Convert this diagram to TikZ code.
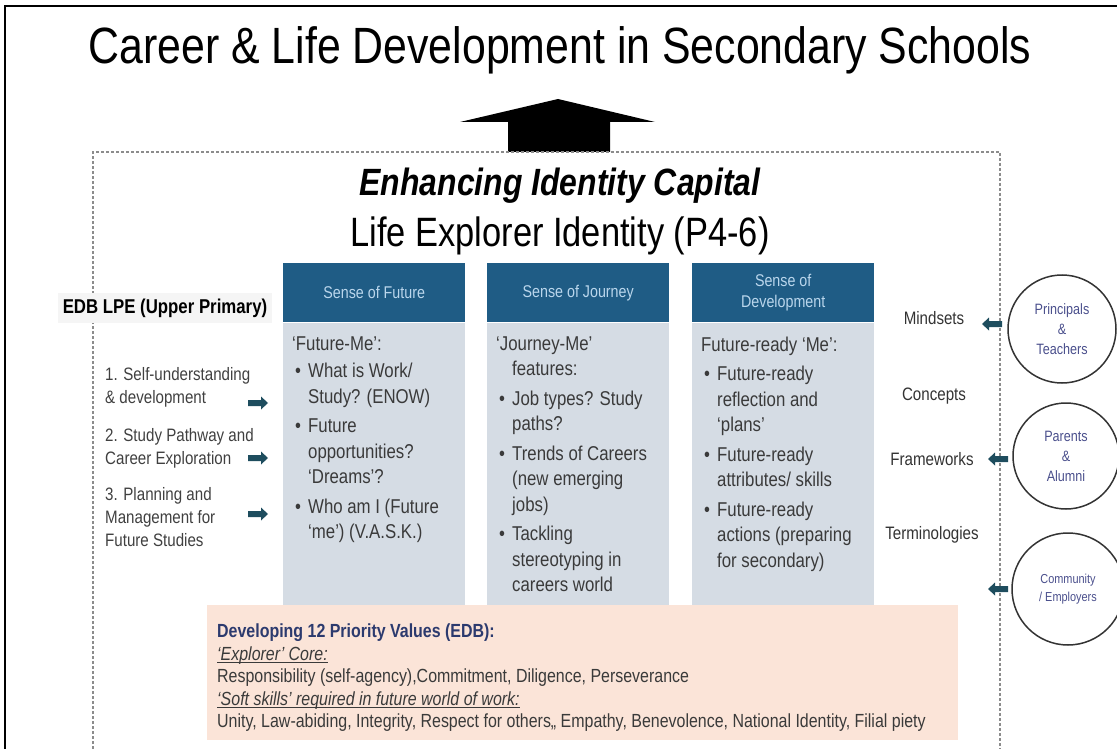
\documentclass[tikz,border=0pt]{standalone}
\usepackage{fontspec}
\setmainfont{Liberation Sans}[FakeStretch=0.84]
\usetikzlibrary{positioning}

\definecolor{hdrblue}{HTML}{1F5C85}
\definecolor{hdrtext}{HTML}{BAD6EC}
\definecolor{bodyfill}{HTML}{D5DCE4}
\definecolor{bodytext}{HTML}{3A3A3A}
\definecolor{peach}{HTML}{FBE4D8}
\definecolor{navytext}{HTML}{2C3A6E}
\definecolor{arrowteal}{HTML}{1E4D5E}
\definecolor{circtext}{HTML}{4A4F8C}
\definecolor{framegray}{HTML}{8C8C8C}

% bullet lines inside the columns
\newcommand{\bul}{\hspace*{3pt}\makebox[13pt][l]{\textbullet}}
\newcommand{\ind}{\hspace*{16pt}}
% underlined italic heading in the values band
\newcommand{\ulit}[1]{\textit{\underline{\smash{#1}}}}

\tikzset{
  colhead/.style={fill=hdrblue, text=hdrtext, minimum width=182, minimum height=59,
    inner sep=0pt, align=center, anchor=north west, font=\fontsize{17}{21}\selectfont},
  colbox/.style={fill=bodyfill, minimum width=182, minimum height=285, inner sep=0pt},
  coltext/.style={anchor=north west, inner sep=0pt, align=left, text=bodytext,
    font=\fontsize{20}{25.5}\selectfont},
  lpe/.style={anchor=north west, inner sep=0pt, align=left, text=black!75,
    font=\fontsize{18}{23}\selectfont},
  lbl/.style={text=black!80, font=\fontsize{18}{22}\selectfont},
  party/.style={circle, draw=black!80, line width=1.5pt, minimum size=108,
    inner sep=0pt, align=center, text=circtext, font=\fontsize{15}{20}\selectfont},
  % small block arrow, pointing right
  pics/blockarrow/.style={code={
    \fill[arrowteal] (-10,-3) -- (3,-3) -- (3,-6.5) -- (10,0) -- (3,6.5) -- (3,3) -- (-10,3) -- cycle;
  }},
}

\begin{document}
\begin{tikzpicture}[x=1pt,y=-1pt]
  \useasboundingbox (0,0) rectangle (1117,749);

  % page frame
  \draw[line width=2.5pt] (5,749) -- (5,6) -- (1117,6);

  \node (title) at (560,50) {\fontsize{51}{57}\selectfont Career \& Life Development in Secondary Schools};

  % block arrow up to the title
  \fill (508,152) -- (508,122) -- (460,122) -- (558,99) -- (655,122) -- (610,122) -- (610,152) -- cycle;

  % dashed frame
  \draw[framegray, line width=1.4pt, dash pattern=on 3pt off 2pt]
    (93,749) -- (93,152) -- (1000,152) -- (1000,749);

  \node (capital) at (560,186) {\fontsize{38}{42}\selectfont\bfseries\itshape Enhancing Identity Capital};
  \node (explorer) at (560,236) {\fontsize{41}{45}\selectfont Life Explorer Identity (P4-6)};

  % the three senses
  \node[colhead] (fhead) at (283,263) {Sense of Future};
  \node[colhead] (jhead) at (487,263) {Sense of Journey};
  \node[colhead] (dhead) at (692,263) {Sense of\\Development};
  \node[colbox, below=0pt of fhead] (fbody) {};
  \node[colbox, below=0pt of jhead] (jbody) {};
  \node[colbox, below=0pt of dhead] (dbody) {};

  \node[coltext] (ftext) at ([shift={(9,14)}]fbody.north west)
    {‘Future-Me’:\\[2pt]
     \bul What is Work/\\ \ind Study? (ENOW)\\[4pt]
     \bul Future\\ \ind opportunities?\\ \ind ‘Dreams’?\\[4pt]
     \bul Who am I (Future\\ \ind ‘me’) (V.A.S.K.)};
  \node[coltext] (jtext) at ([shift={(9,14)}]jbody.north west)
    {‘Journey-Me’\\ \ind features:\\[4pt]
     \bul Job types? Study\\ \ind paths?\\[4pt]
     \bul Trends of Careers\\ \ind (new emerging\\ \ind jobs)\\[4pt]
     \bul Tackling\\ \ind stereotyping in\\ \ind careers world};
  \node[coltext] (dtext) at ([shift={(9,14)}]dbody.north west)
    {Future-ready ‘Me’:\\[4pt]
     \bul Future-ready\\ \ind reflection and\\ \ind ‘plans’\\[4pt]
     \bul Future-ready\\ \ind attributes/ skills\\[4pt]
     \bul Future-ready\\ \ind actions (preparing\\ \ind for secondary)};

  % EDB strands on the left
  \node[fill=black!4, inner xsep=5pt, inner ysep=6pt, font=\fontsize{20}{23}\selectfont\bfseries]
    (edb) at (165,308) {EDB LPE (Upper Primary)};
  \node[lpe] (lpe1) at (105,367) {1. Self-understanding\\\& development};
  \node[lpe] (lpe2) at (105,428) {2. Study Pathway and\\Career Exploration};
  \node[lpe] (lpe3) at (105,487) {3. Planning and\\Management for\\Future Studies};
  \pic (arw1) at (258,403) {blockarrow};
  \pic (arw2) at (258,458) {blockarrow};
  \pic (arw3) at (258,514) {blockarrow};

  % what the partners bring in
  \node[lbl] (mindsets) at (934,318) {Mindsets};
  \node[lbl] (concepts) at (934,396) {Concepts};
  \node[lbl] (frameworks) at (932,459) {Frameworks};
  \node[lbl] (terms) at (932,535) {Terminologies};

  \node[party] (teachers) at (1062,329) {Principals\\\&\\Teachers};
  \node[party, minimum size=106] (parents) at (1066,456) {Parents\\\&\\Alumni};
  \node[party, minimum size=112, font=\fontsize{13}{18}\selectfont] (community) at (1068,589) {Community\\/ Employers};

  \pic[rotate=180] (larw1) at (992,324) {blockarrow};
  \pic[rotate=180] (larw2) at (998,459) {blockarrow};
  \pic[rotate=180] (larw3) at (998,589) {blockarrow};

  % values band
  \node[fill=peach, minimum width=751, minimum height=135, inner sep=0pt, anchor=north west]
    (values) at (207,605) {};
  \node[anchor=north west, inner sep=0pt, align=left, text=bodytext,
    font=\fontsize{19}{22.5}\selectfont] (valtext) at ([shift={(10,19)}]values.north west)
    {\textcolor{navytext}{\bfseries Developing 12 Priority Values (EDB):}\\
     \ulit{‘Explorer’ Core:}\\
     Responsibility (self-agency),Commitment, Diligence, Perseverance\\
     \ulit{‘Soft skills’ required in future world of work:}\\
     Unity, Law-abiding, Integrity, Respect for others,, Empathy, Benevolence, National Identity, Filial piety};
\end{tikzpicture}
\end{document}
